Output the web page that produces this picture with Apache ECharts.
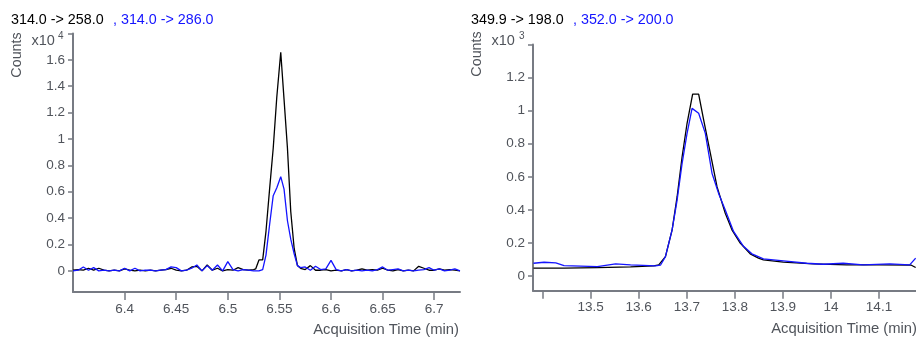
<!DOCTYPE html>
<html>
<head>
<meta charset="utf-8">
<script src="https://cdn.jsdelivr.net/npm/echarts@6/dist/echarts.min.js"></script>
<style>
  html, body { margin: 0; padding: 0; background: #fff; }
  #chart { width: 916px; height: 340px; }
</style>
</head>
<body>
<div id="chart"></div>
<script>
// left panel: 314.0 -> 258.0 (black) and 314.0 -> 286.0 (blue), counts x10^4
const leftTimes = [
  6.350, 6.355, 6.360, 6.365, 6.370, 6.375, 6.380, 6.385, 6.390, 6.395,
  6.400, 6.405, 6.410, 6.415, 6.420, 6.425, 6.430, 6.435, 6.440, 6.445,
  6.450, 6.455, 6.460, 6.465, 6.470, 6.475, 6.480, 6.485, 6.490, 6.495,
  6.500, 6.505, 6.510, 6.515, 6.520, 6.525,
  6.5270, 6.5302, 6.5338, 6.5370, 6.5405, 6.5440, 6.5475, 6.5513, 6.5545, 6.5578,
  6.5610, 6.5643, 6.5675, 6.5705,
  6.575, 6.580, 6.585, 6.590, 6.595, 6.600, 6.605, 6.610, 6.615, 6.620,
  6.625, 6.630, 6.635, 6.640, 6.645, 6.650, 6.655, 6.660, 6.665, 6.670,
  6.675, 6.680, 6.685, 6.690, 6.695, 6.700, 6.705, 6.710, 6.715, 6.720, 6.725
];
const leftBlack = [
  0.005, 0.01, 0.005, 0.02, 0.005, 0.02, 0.005, 0, 0.005, 0,
  0.015, 0.005, 0, 0.005, 0, 0.005, 0, 0.005, 0.01, 0.02,
  0.005, 0, 0.005, 0.03, 0.035, 0, 0.045, 0.005, 0.02, 0,
  0.01, 0.005, 0.025, 0.01, 0.005, 0.01,
  0.015, 0.083, 0.083, 0.30, 0.62, 0.93, 1.32, 1.657, 1.30, 0.93,
  0.45, 0.17, 0.04, 0.02,
  0.01, 0.04, 0.005, 0.005, 0.01, 0, 0.005, 0, 0.01, 0,
  0.005, 0.015, 0.005, 0.01, 0.005, 0.02, 0.005, 0, 0.01, 0,
  0.005, 0, 0.035, 0.02, 0.005, 0.005, 0.015, 0.005, 0.01, 0.005, 0
];
const leftBlue = [
  0, 0.005, 0.03, 0.005, 0.025, 0, 0.005, 0, 0.005, 0,
  0.02, 0, 0.02, 0, 0.005, 0.005, 0, 0.005, 0.01, 0.03,
  0.025, 0, 0.005, 0.02, 0.045, 0, 0.04, 0.005, 0.045, 0,
  0.07, 0.01, 0, 0.01, 0.005, 0,
  0, 0, 0.01, 0.12, 0.35, 0.57, 0.63, 0.714, 0.62, 0.38,
  0.24, 0.13, 0.04, 0.025,
  0.03, 0.005, 0.035, 0.01, 0.015, 0.08, 0.01, 0, 0.01, 0,
  0.005, 0, 0.005, 0, 0.01, 0.03, 0.005, 0.01, 0.015, 0,
  0.005, 0, 0.005, 0.01, 0.025, 0.005, 0.015, 0, 0.005, 0.015, 0
];
const leftXTicks = [6.4, 6.45, 6.5, 6.55, 6.6, 6.65, 6.7];
const leftYLabels = [0, 0.2, 0.4, 0.6, 0.8, 1, 1.2, 1.4, 1.6];
const leftYTicks = [0, 0.2, 0.4, 0.6, 0.8, 1, 1.2, 1.4, 1.6, 1.8];

// right panel: 349.9 -> 198.0 (black) and 352.0 -> 200.0 (blue), counts x10^3
const rightBlackTimes = [
  13.381, 13.4446, 13.5139, 13.583, 13.6313, 13.6417, 13.6556, 13.6695, 13.6799, 13.6902,
  13.7006, 13.7122, 13.7247, 13.7351, 13.749, 13.7629, 13.7801, 13.794, 13.8112, 13.832,
  13.8492, 13.8595, 13.901, 13.9633, 14.0326, 14.1017, 14.1674, 14.1763
];
const rightBlack = [
  0.048, 0.048, 0.052, 0.056, 0.062, 0.068, 0.118, 0.28, 0.48, 0.72,
  0.924, 1.10, 1.10, 0.944, 0.743, 0.541, 0.38, 0.28, 0.20, 0.135,
  0.109, 0.098, 0.085, 0.074, 0.068, 0.068, 0.066, 0.052
];
const rightBlueTimes = [
  13.381, 13.4031, 13.4274, 13.4446, 13.5139, 13.5519, 13.583, 13.6349, 13.6452, 13.6556,
  13.6695, 13.6799, 13.6902, 13.7006, 13.711, 13.7247, 13.7386, 13.7525, 13.7662, 13.7801,
  13.7973, 13.818, 13.8355, 13.8595, 13.901, 13.9496, 13.984, 14.0255, 14.067, 14.1224,
  14.1639, 14.1763
];
const rightBlue = [
  0.078, 0.084, 0.080, 0.064, 0.058, 0.074, 0.068, 0.062, 0.066, 0.118,
  0.28, 0.46, 0.68, 0.863, 1.014, 0.984, 0.863, 0.622, 0.50, 0.40,
  0.27, 0.18, 0.135, 0.104, 0.092, 0.078, 0.072, 0.078, 0.068, 0.074,
  0.068, 0.109
];
const rightXTicks = [13.4, 13.5, 13.6, 13.7, 13.8, 13.9, 14, 14.1];
const rightXLabels = [13.5, 13.6, 13.7, 13.8, 13.9, 14, 14.1];
const rightYLabels = [0, 0.2, 0.4, 0.6, 0.8, 1, 1.2];
const rightYTicks = [0, 0.2, 0.4, 0.6, 0.8, 1, 1.2, 1.4];

const FONT = 'Arial, "Liberation Sans", Helvetica, sans-serif';
const axisColor = '#777b83';
const labelColor = '#50545b';
const blue = '#1414ff';

const pairs = (xs, ys) => xs.map((x, i) => [x, ys[i]]);

const xAxisBase = (min, max, ticks, labels, grid) => ({
  type: 'value',
  gridIndex: grid,
  min: min,
  max: max,
  splitLine: { show: false },
  axisLine: { onZero: false, lineStyle: { color: axisColor, width: 2 } },
  axisTick: { length: 8, customValues: ticks, lineStyle: { color: axisColor, width: 1.5 } },
  axisLabel: { customValues: labels, margin: 10, color: labelColor, fontSize: 13.5, fontFamily: FONT }
});

const yAxisBase = (min, max, ticks, labels, grid) => ({
  type: 'value',
  gridIndex: grid,
  min: min,
  max: max,
  splitLine: { show: false },
  axisLine: { show: true, onZero: false, lineStyle: { color: axisColor, width: 2 } },
  axisTick: { show: true, length: 5, customValues: ticks, lineStyle: { color: axisColor, width: 1.5 } },
  axisLabel: { customValues: labels, margin: 8, color: labelColor, fontSize: 13.5, fontFamily: FONT }
});

const lineSeries = (data, color, xi, yi) => ({
  type: 'line',
  xAxisIndex: xi,
  yAxisIndex: yi,
  data: data,
  showSymbol: false,
  symbol: 'none',
  lineStyle: { color: color, width: 1.3 },
  silent: true
});

// plain text element for titles and axis names
const txt = (text, x, y, color, size, align, rotation) => ({
  type: 'text',
  x: x,
  y: y,
  rotation: rotation || 0,
  style: {
    text: text,
    fill: color,
    font: size + 'px ' + FONT,
    textAlign: align || 'left',
    textVerticalAlign: 'middle'
  }
});

const chart = echarts.init(document.getElementById('chart'));

chart.setOption({
  animation: false,
  grid: [
    { left: 73, top: 33.4, right: 456, bottom: 48 },
    { left: 533, top: 44.5, right: 0, bottom: 49.3 }
  ],
  xAxis: [
    xAxisBase(6.35, 6.725, leftXTicks, leftXTicks, 0),
    xAxisBase(13.38, 14.177, rightXTicks, rightXLabels, 1)
  ],
  yAxis: [
    yAxisBase(-0.16, 1.8, leftYTicks, leftYLabels, 0),
    yAxisBase(-0.088, 1.4, rightYTicks, rightYLabels, 1)
  ],
  series: [
    lineSeries(pairs(leftTimes, leftBlack), '#000000', 0, 0),
    lineSeries(pairs(leftTimes, leftBlue), blue, 0, 0),
    lineSeries(pairs(rightBlackTimes, rightBlack), '#000000', 1, 1),
    lineSeries(pairs(rightBlueTimes, rightBlue), blue, 1, 1)
  ],
  graphic: [
    txt('314.0 -> 258.0', 11, 20, '#000', 14.3),
    txt(', 314.0 -> 286.0', 113, 20, blue, 14.3),
    txt('349.9 -> 198.0', 471, 20, '#000', 14.3),
    txt(', 352.0 -> 200.0', 573, 20, blue, 14.3),
    txt('x10', 31.5, 41, labelColor, 14.5),
    txt('4', 58, 36, labelColor, 10),
    txt('x10', 491.5, 41, labelColor, 14.5),
    txt('3', 519, 36, labelColor, 10),
    txt('Counts', 17, 55, labelColor, 14.3, 'center', Math.PI / 2),
    txt('Counts', 477, 54, labelColor, 14.3, 'center', Math.PI / 2),
    txt('Acquisition Time (min)', 459, 330, labelColor, 14.8, 'right'),
    txt('Acquisition Time (min)', 917, 329, labelColor, 14.8, 'right')
  ]
});

window.addEventListener('resize', () => chart.resize());
</script>
</body>
</html>
